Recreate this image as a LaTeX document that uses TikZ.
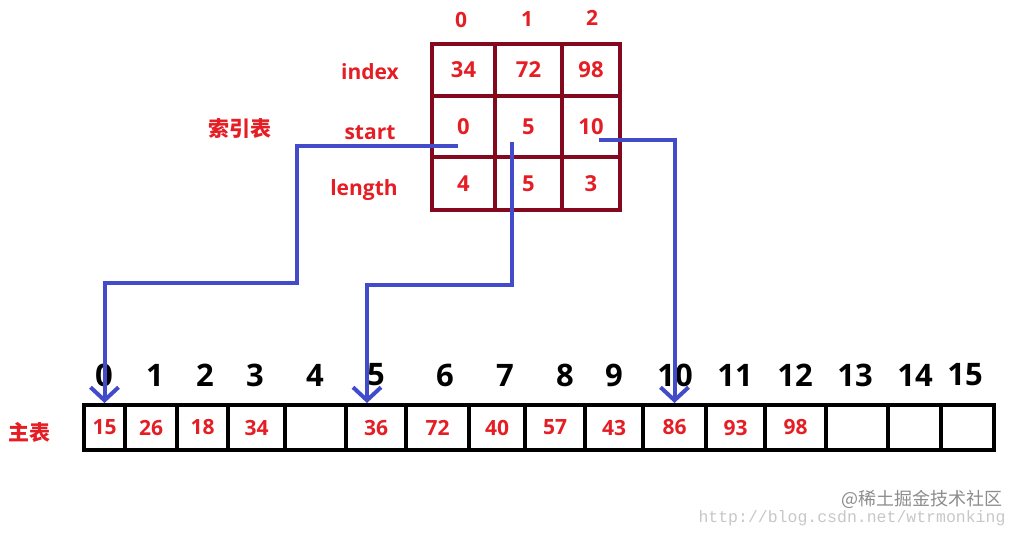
\documentclass[tikz,border=0pt]{standalone}
\usepackage{fontspec}
\setmainfont{Open Sans}
\newfontfamily\cjk{Noto Sans CJK SC}
\newfontfamily\wmfont{Liberation Mono}
\usetikzlibrary{arrows.meta}
\definecolor{txtred}{RGB}{228,30,36}
\definecolor{gridred}{RGB}{132,8,30}
\definecolor{ptrblue}{RGB}{66,76,202}
\begin{document}
\begin{tikzpicture}[x=1pt,y=-1pt,
	lbl/.style={text=txtred,font=\bfseries\fontsize{21}{21}\selectfont},
	tcell/.style={draw=gridred,line width=4pt,inner sep=0,text=txtred,
		font=\bfseries\fontsize{22}{22}\selectfont},
	mcell/.style={draw,line width=4pt,inner sep=0,minimum height=45,text=txtred,
		font=\bfseries\fontsize{21}{21}\selectfont},
	num/.style={font=\bfseries\fontsize{31}{31}\selectfont},
	ptr/.style={draw=ptrblue,line width=4pt,-{Straight Barb[length=13pt,width=28pt]}}]
\useasboundingbox (0,0) rectangle (1020,533);
% index table
\foreach \n/\x/\y in {0/461/20,1/527/19,2/592/18}
	\node[lbl] (c\n) at (\x,\y) {\n};
\node[lbl] (tindex) at (370,72) {index};
\node[lbl] (tstart) at (370,133) {start};
\node[lbl] (tlength) at (364,190) {length};
\node[lbl] (tname) at (240,129) {\cjk 索引表};
\foreach \v/\x/\w [count=\k from 0] in {34/463.5/63,72/528.5/67,98/591/58}
	\node[tcell,minimum width=\w,minimum height=52] (i\k) at (\x,70) {\v};
\foreach \v/\x/\w [count=\k from 0] in {0/463.5/63,5/528.5/67,10/591/58}
	\node[tcell,minimum width=\w,minimum height=61] (s\k) at (\x,126.5) {\v};
\foreach \v/\x/\w [count=\k from 0] in {4/463.5/63,5/528.5/67,3/591/58}
	\node[tcell,minimum width=\w,minimum height=53] (l\k) at (\x,183.5) {\v};
% main table
\node[lbl] (mname) at (30,432) {\cjk 主表};
\foreach \l/\r/\v [count=\k from 0] in {84/125/15,125/177/26,177/228/18,228/285/34,
	285/346/,346/406/36,406/469/72,469/525/40,525/585/57,585/643/43,643/706/86,
	706/765/93,765/826/98,826/888/,888/941/,941/994/}
	\node[mcell,minimum width=\r-\l] (m\k) at ({(\l+\r)/2},427.5) {\v};
\foreach \n/\x in {0/104,1/155,2/205,3/255,4/315,5/376,6/445,7/505,8/565,
	9/614,10/675,11/735,12/795,13/855,14/915,15/965}
	\node[num] (n\n) at (\x,375) {\n};
% pointers
\coordinate (b0) at (297,283);
\coordinate (b1) at (367,285);
\draw[ptr] ([shift={(-5.5,19.5)}]s0.center) -| (b0) -| (m0.north);
\draw[ptr] ([shift={(-16.5,15.5)}]s1.center) |- (b1) -- (b1 |- m5.north);
\draw[ptr] ([shift={(8,13.5)}]s2.center) -| (m10.north);
% watermark
\node[text=black!22,font=\wmfont\fontsize{16.5}{16.5}\selectfont] (wm1) at (852,518) {http://blog.csdn.net/wtrmonking};
\node[text=black!45,font=\cjk\fontsize{18}{18}\selectfont] (wm2) at (922,499) {@稀土掘金技术社区};
\end{tikzpicture}
\end{document}
